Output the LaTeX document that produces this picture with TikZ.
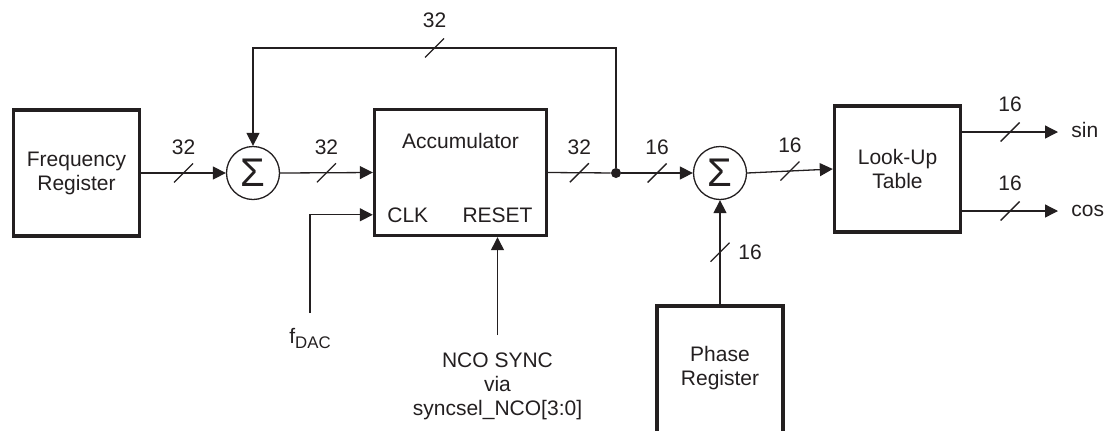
\documentclass[tikz,border=0pt]{standalone}
\usepackage{fontspec}
\setmainfont{Liberation Sans}
\usetikzlibrary{arrows.meta}
\definecolor{ncoInk}{HTML}{231F20}
\tikzset{
  nco block/.style={draw=ncoInk, line width=1.7pt, minimum width=63pt, minimum height=63pt, inner sep=0pt, align=center, text=ncoInk, font=\fontsize{10.5}{12}\selectfont},
  nco sum/.style={circle, draw=ncoInk, line width=0.65pt, minimum size=26.5pt, inner sep=0pt, text=ncoInk, font=\fontsize{20}{20}\selectfont},
  nco wire/.style={draw=ncoInk, line width=0.65pt},
  nco arrow/.style={nco wire, -{Triangle[length=6.5pt,width=6.5pt]}},
  nco slash/.style={draw=ncoInk, line width=0.65pt},
  nco label/.style={inner sep=0pt, align=center, text=ncoInk, font=\fontsize{10.5}{12}\selectfont},
  nco dot/.style={circle, fill=ncoInk, minimum size=5pt, inner sep=0pt},
}
\begin{document}
\begin{tikzpicture}[x=0.5pt,y=-0.5pt]
\useasboundingbox (0,0) rectangle (1107,430);
\node[nco block](freq)at(76.5,173){Frequency\\Register};
\node[nco sum](sum1)at(253,173){Σ};
\node[nco block,minimum width=86pt](acc)at(460.5,172.5){};
\node[nco label,anchor=base](acclbl)at(460.5,148){Accumulator};
\node[nco label,anchor=base west](clk)at(387,222){CLK};
\node[nco label,anchor=base](reset)at(497.5,222){RESET};
\node[nco dot](tap)at(616,173){};
\node[nco sum](sum2)at(720,173){Σ};
\node[nco block](lut)at(897.5,169){Look-Up\\Table};
\node[nco block,minimum height=90pt](phase)at(720,396){};
\node[nco label](phaselbl)at(720,368){Phase\\Register};
\node[nco label,anchor=base west](sin)at(1071,137.5){sin};
\node[nco label,anchor=base west](cos)at(1071,216.5){cos};
\node[nco label,anchor=base](fdac)at(310,343){f\raisebox{-2.5pt}{\fontsize{8.4}{8.4}\selectfont DAC}};
\node[nco label,anchor=north](sync)at(497.5,352){NCO SYNC\\via\\syncsel\_NCO[3:0]};
\coordinate(fb)at(616,48);\coordinate(sinend)at(1058,132);\coordinate(cosend)at(1058,211);
\coordinate(clkin)at(310,313);\coordinate(syncin)at(497.5,335);
\draw[nco arrow](freq.east)--coordinate[pos=.5](b1)(sum1.west);
\draw[nco arrow](sum1.east)--coordinate[pos=.5](b2)(acc.west);
\draw[nco wire](acc.east)--coordinate[pos=.5](b3)(tap);
\draw[nco arrow](tap)--coordinate[pos=.5](b4)(sum2.west);
\draw[nco arrow](sum2.east)--coordinate[pos=.5](b5)(lut.west);
\draw[nco arrow](lut.east|-sinend)--coordinate[pos=.5](b6)(sinend);
\draw[nco arrow](lut.east|-cosend)--coordinate[pos=.5](b7)(cosend);
\draw[nco arrow](tap)--(fb)-|coordinate[pos=.25](b8)(sum1.north);
\draw[nco arrow](phase.north)--coordinate[pos=.5](b9)(sum2.south);
\draw[nco arrow](clkin)|-(acc.west|-clk);
\draw[nco arrow](syncin)--(reset|-acc.south);
\foreach \c/\w/\d in {b1/32/9pt,b2/32/9pt,b3/32/9pt,b4/16/9pt,b5/16/9pt,b6/16/10pt,b7/16/10pt,b8/32/10pt}{
  \draw[nco slash](\c)+(-9.5,9.5)--+(9.5,-9.5);
  \node[nco label,above=\d]at(\c){\w};
}
\draw[nco slash](b9)+(-9.5,9.5)--+(9.5,-9.5);
\node[nco label,right=9pt]at(b9){16};
\end{tikzpicture}
\end{document}
